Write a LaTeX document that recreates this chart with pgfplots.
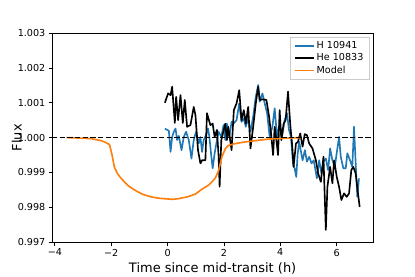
\documentclass[border=0pt]{standalone}
\usepackage{fontspec}
\setmainfont{DejaVu Sans}
\usepackage{pgfplots}
\pgfplotsset{compat=1.18}
\definecolor{mplblue}{HTML}{1F77B4}
\definecolor{mplorange}{HTML}{FF7F0E}
\definecolor{legframe}{HTML}{CCCCCC}
\pgfplotsset{
  mplline/.style={line width=1.7pt, line join=round},
}
\begin{document}
\begin{tikzpicture}
\begin{axis}[
  scale only axis,
  width=334.3pt, height=217.7pt,
  xmin=-4.1, xmax=7.3,
  ymin=0.997, ymax=1.003,
  xtick={-4,-2,0,2,4,6},
  xticklabels={−4,−2,0,2,4,6},
  ytick={0.997,0.998,0.999,1.000,1.001,1.002,1.003},
  yticklabel style={/pgf/number format/.cd, fixed, fixed zerofill, precision=3},
  /pgf/number format/assume math mode=true,
  tick align=outside,
  xtick pos=bottom, ytick pos=left,
  major tick length=3.5pt,
  tick style={black, line width=0.8pt},
  axis line style={line width=0.8pt},
  tick label style={font=\fontsize{10}{12}\selectfont},
  label style={font=\fontsize{13.5}{16}\selectfont},
  xlabel={Time since mid-transit (h)},
  ylabel={Flux},
  ylabel style={yshift=-11pt},
  legend style={at={(1,1)}, anchor=north east, xshift=-4pt, yshift=-4.5pt,
    draw=legframe, fill=white,
    font=\fontsize{10}{12}\selectfont, inner xsep=4pt, inner ysep=2pt},
  legend cell align=left,
  legend image post style={xscale=1.17},
]
\addplot[mplblue, mplline] coordinates {
(-0.095,1.00026) (-0.014,1.00022) (0.046,1.0002) (0.106,0.99959) (0.163,1.00002)
(0.223,1.00017) (0.283,1.00026) (0.339,0.99993) (0.399,1.00005) (0.495,0.99964)
(0.576,1.00002) (0.657,1.00017) (0.753,0.99993) (0.848,0.9994) (0.929,0.99993)
(1.011,1.00017) (1.106,0.99983) (1.166,1.00002) (1.223,0.99959) (1.283,0.99993)
(1.364,1.00007) (1.435,1.00026) (1.484,1.00002) (1.555,0.99945) (1.601,0.99912)
(1.671,0.99955) (1.753,0.99993) (1.813,1.00017) (1.908,1.00002) (1.989,1.00036)
(2.049,0.99993) (2.106,1.0004) (2.191,1.00002) (2.272,1.00045) (2.353,1.00041)
(2.449,1.0005) (2.544,1.00098) (2.625,1.00045) (2.707,1.00055) (2.777,1.00031)
(2.862,1.00055) (2.943,1.00017) (3.039,1.0006) (3.131,1.00117) (3.216,1.00151)
(3.272,1.00103) (3.367,1.00127) (3.449,1.00098) (3.534,1.0007) (3.625,1.00002)
(3.721,1.00031) (3.802,1.00084) (3.887,1.00002) (3.979,1.0004) (4.064,1.00002)
(4.155,1.0005) (4.24,1.0007) (4.311,1.00022) (4.382,1.00002) (4.452,0.99926)
(4.509,0.99912) (4.569,0.99887) (4.62,0.99955) (4.675,0.99988) (4.735,0.9996)
(4.792,0.99935) (4.876,0.99964) (4.947,0.99931) (5.028,0.99945) (5.11,0.99926)
(5.19,0.99935) (5.3,0.99883) (5.382,0.99935) (5.463,0.99897) (5.534,0.99931)
(5.618,0.9994) (5.7,0.99907) (5.77,0.99969) (5.852,0.99935) (5.936,0.99916)
(6.028,0.99969) (6.088,1.00002) (6.148,0.99945) (6.24,0.99912) (6.325,0.99912)
(6.382,0.99955) (6.477,0.99935) (6.558,0.99916) (6.618,1.00031) (6.689,0.99907)
(6.735,0.9983) (6.795,0.99883)
};
\addlegendentry{H 10941}
\addplot[black, mplline] coordinates {
(-0.095,1.0010) (0.02,1.00127) (0.106,1.00122) (0.163,1.00146) (0.223,1.00079)
(0.258,1.00042) (0.304,1.00117) (0.375,1.0005) (0.459,1.00122) (0.541,1.00042)
(0.611,1.00108) (0.693,1.00031) (0.813,1.00036) (0.929,1.00088) (0.989,1.00065)
(1.081,0.99964) (1.166,0.99926) (1.223,0.99935) (1.343,0.99935) (1.399,1.0007)
(1.519,1.00036) (1.601,1.0004) (1.671,1.00002) (1.753,1.00022) (1.813,0.99945)
(1.848,0.99859) (1.908,0.99993) (1.989,1.0002) (2.049,1.0004) (2.106,0.99993)
(2.155,1.00031) (2.272,0.99964) (2.353,1.00079) (2.449,1.00098) (2.544,1.00136)
(2.625,1.0005) (2.707,1.00079) (2.777,1.0004) (2.862,1.00088) (2.943,0.99969)
(3.039,1.00031) (3.131,1.00098) (3.216,1.00146) (3.272,1.00108) (3.392,1.0011)
(3.509,1.00108) (3.604,1.0006) (3.686,1.00002) (3.746,0.9995) (3.802,1.00031)
(3.862,0.99993) (3.922,0.9995) (3.979,1.00079) (4.039,0.99993) (4.12,1.0004)
(4.191,1.0005) (4.276,1.00132) (4.357,1.00036) (4.428,0.99974) (4.473,0.99916)
(4.558,0.99983) (4.629,0.99988) (4.71,1.00012) (4.792,0.99974) (4.87,1.0001)
(4.947,1.00007) (5.028,0.99983) (5.145,0.99969) (5.265,0.99935) (5.346,0.99897)
(5.442,0.99873) (5.534,0.99945) (5.618,0.99735) (5.675,0.99859) (5.77,0.99916)
(5.852,0.99869) (5.912,0.99935) (6.007,0.99887) (6.088,0.99859) (6.17,0.99821)
(6.265,0.9984) (6.36,0.9983) (6.442,0.9984) (6.523,0.99907) (6.594,0.99916)
(6.678,0.99897) (6.76,0.9984) (6.82,0.99801)
};
\addlegendentry{He 10833}
\addplot[mplorange, mplline] coordinates {
(-3.59,1.0000) (-3.2,0.99999) (-2.71,0.99997) (-2.4,0.99992) (-2.24,0.99988)
(-2.06,0.9998) (-1.97,0.9995) (-1.89,0.99916) (-1.78,0.99897) (-1.65,0.99883)
(-1.4,0.99862) (-1.18,0.9985) (-0.9,0.99838) (-0.59,0.9983) (-0.3,0.99826)
(0.0,0.99824) (0.2,0.99823) (0.4,0.99825) (0.7,0.9983) (0.99,0.99838)
(1.2,0.99851) (1.46,0.99864) (1.6,0.99875) (1.7,0.99885) (1.81,0.99905)
(1.93,0.99945) (2.05,0.99968) (2.15,0.99977) (2.35,0.99982) (2.7,0.99987)
(3.0,0.9999) (3.5,0.99995) (4.0,0.99998) (4.4,0.99999) (4.75,1.0000)
};
\addlegendentry{Model}
\addplot[black, line width=1.5pt, dash pattern=on 5.55pt off 2.4pt, forget plot] coordinates {(-4.1,1.0) (7.3,1.0)};
\end{axis}
\pgfresetboundingbox
\path[use as bounding box] (-54.2pt,-36pt) rectangle (377.8pt,252.1pt);
\end{tikzpicture}
\end{document}
